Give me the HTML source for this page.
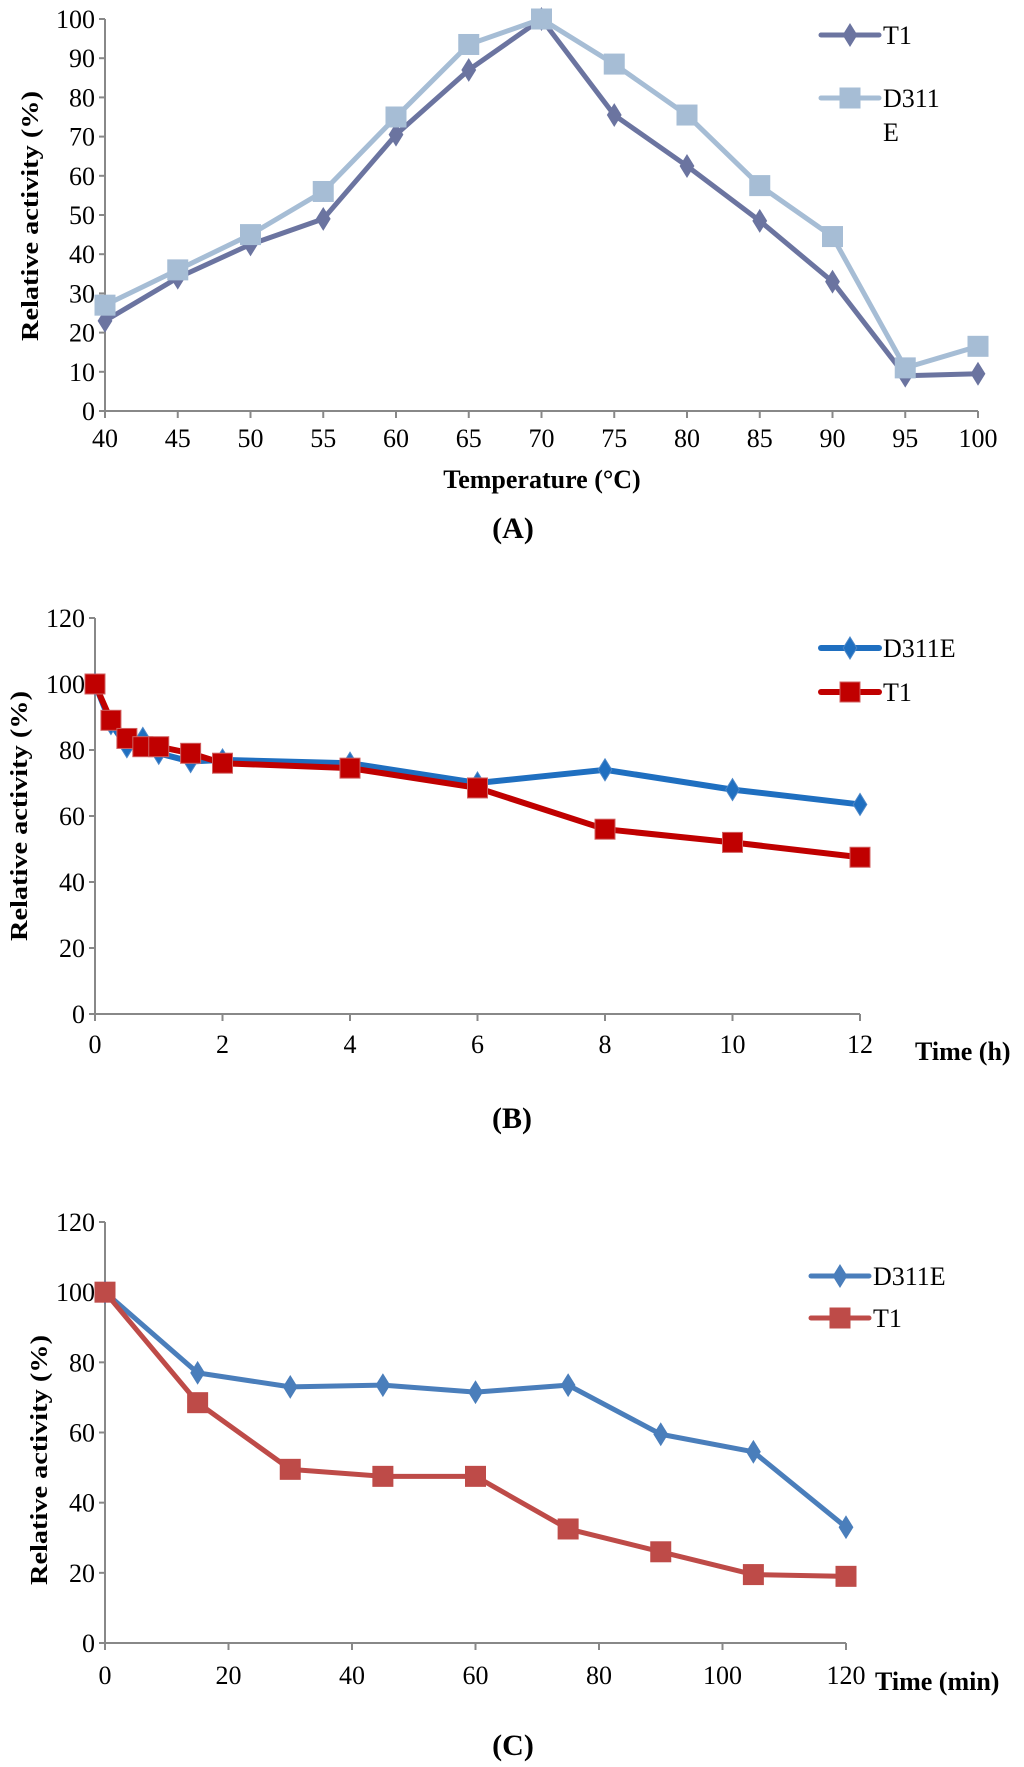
<!DOCTYPE html>
<html><head><meta charset="utf-8"><style>
html,body{margin:0;padding:0;background:#fff}
svg{display:block}
text{font-family:"Liberation Serif",serif;fill:#000}
</style></head><body>
<svg id="fig" width="1024" height="1767" viewBox="0 0 1024 1767">
<text x="513" y="538" font-size="30" font-weight="bold" text-anchor="middle">(A)</text>
<text x="512" y="1128" font-size="30" font-weight="bold" text-anchor="middle">(B)</text>
<text x="513" y="1755" font-size="30" font-weight="bold" text-anchor="middle">(C)</text>
</svg>
<script>
// Panel A data
const aX = [40,45,50,55,60,65,70,75,80,85,90,95,100];
const aT1 = [23,34,42.5,49,70.5,87,100,75.5,62.5,48.5,33,9,9.5];
const aD311E = [27,36,45,56,75,93.5,100,88.5,75.5,57.5,44.5,11,16.5];
const aYTicks = [0,10,20,30,40,50,60,70,80,90,100];
const aXTicks = [40,45,50,55,60,65,70,75,80,85,90,95,100];
// Panel B data
const bX = [0,0.25,0.5,0.75,1,1.5,2,4,6,8,10,12];
const bD311E = [100,88,81,83.5,79,76.5,77,76,70,74,68,63.5];
const bT1 = [100,89,83.5,81,81,79,76,74.5,68.5,56,52,47.5];
const bYTicks = [0,20,40,60,80,100,120];
const bXTicks = [0,2,4,6,8,10,12];
// Panel C data
const cX = [0,15,30,45,60,75,90,105,120];
const cD311E = [100,77,73,73.5,71.5,73.5,59.5,54.5,33];
const cT1 = [100,68.5,49.5,47.5,47.5,32.5,26,19.5,19];
const cYTicks = [0,20,40,60,80,100,120];
const cXTicks = [0,20,40,60,80,100,120];

const NS = "http://www.w3.org/2000/svg";
const svg = document.getElementById('fig');
function mk(tag, attrs, parent) {
  const e = document.createElementNS(NS, tag);
  for (const k in attrs) e.setAttribute(k, attrs[k]);
  (parent || svg).appendChild(e);
  return e;
}
function marker(g, kind, x, y, color, size, stroke) {
  let m;
  if (kind === 'diamond') {
    const s = size;
    m = mk('polygon', {points: `${x},${y-s} ${x+s*0.62},${y} ${x},${y+s} ${x-s*0.62},${y}`, fill: color, stroke: stroke, 'stroke-width': 1}, g);
  } else {
    m = mk('rect', {x: x-size, y: y-size, width: size*2, height: size*2, fill: color, stroke: stroke, 'stroke-width': 1}, g);
  }
  return m;
}
function panel(cfg) {
  const sx = v => cfg.x0 + (v - cfg.xmin) / (cfg.xmax - cfg.xmin) * (cfg.x1 - cfg.x0);
  const sy = v => cfg.y0 + (v - cfg.ymin) / (cfg.ymax - cfg.ymin) * (cfg.y1 - cfg.y0);
  const g = mk('g', {});
  
  
  const ax = mk('g', {stroke: '#888', 'stroke-width': 2}, g);
  
  
  mk('line', {x1: cfg.x0, y1: sy(cfg.ymin), x2: cfg.x0, y2: sy(cfg.ymax)}, ax);
  mk('line', {x1: cfg.x0, y1: sy(cfg.ymin), x2: cfg.x1, y2: sy(cfg.ymin)}, ax);
  cfg.yTicks.forEach(v => {
    mk('line', {x1: cfg.x0 - 6, y1: sy(v), x2: cfg.x0, y2: sy(v)}, ax);
    const t = mk('text', {x: cfg.x0 - 10, y: sy(v) + 9, 'font-size': 26, 'text-anchor': 'end'}, g);
    t.textContent = v;
    
    
  });
  cfg.xTicks.forEach(v => {
    mk('line', {x1: sx(v), y1: sy(cfg.ymin), x2: sx(v), y2: sy(cfg.ymin) + 7}, ax);
    const t = mk('text', {x: sx(v), y: cfg.xLabelY, 'font-size': 26, 'text-anchor': 'middle'}, g);
    t.textContent = v;
    
    
  });
  const yt = mk('text', {x: 0, y: 0, 'font-size': 24, 'font-weight': 'bold', 'text-anchor': 'middle',
    textLength: 250, lengthAdjust: 'spacingAndGlyphs',
    transform: `translate(${cfg.yTitleX},${cfg.yTitleY}) rotate(-90)`}, g);
  yt.textContent = 'Relative activity (%)';
  
  
  const xt = mk('text', {x: cfg.xTitleX, y: cfg.xTitleY, 'font-size': 26, 'font-weight': 'bold', 'text-anchor': cfg.xTitleAnchor}, g);
  xt.textContent = cfg.xTitle;
  
  
  cfg.series.forEach(s => {
    const sg = mk('g', {}, g);
    
    
    const pts = cfg.xs.map((x, i) => sx(x) + ',' + sy(s.values[i])).join(' ');
    mk('polyline', {points: pts, fill: 'none', stroke: s.color, 'stroke-width': cfg.lw, 'stroke-linejoin': 'round'}, sg);
    cfg.xs.forEach((x, i) => {
      const m = marker(sg, s.kind, sx(x), sy(s.values[i]), s.color, s.kind === 'diamond' ? 11 : 10, s.edge);
      
      
    });
    const lg = mk('g', {}, g);
    
    
    mk('line', {x1: cfg.legX, y1: s.legY, x2: cfg.legX + 58, y2: s.legY, stroke: s.color, 'stroke-width': cfg.lw, 'stroke-linecap': 'round'}, lg);
    marker(lg, s.kind, cfg.legX + 29, s.legY, s.color, s.kind === 'diamond' ? 11 : 10, s.edge);
    s.legText.forEach((tx, k) => {
      const t = mk('text', {x: cfg.legX + 62, y: s.legY + 9 + k * 34, 'font-size': 26}, lg);
      t.textContent = tx;
    });
  });
}
panel({name: 'chart-a', x0: 105, x1: 978, y0: 411, y1: 19, xmin: 40, xmax: 100, ymin: 0, ymax: 100,
  xs: aX, xTicks: aXTicks, yTicks: aYTicks, xLabelY: 447, yTitleX: 38, yTitleY: 216,
  xTitle: 'Temperature (°C)', xTitleX: 542, xTitleY: 488, xTitleAnchor: 'middle', lw: 5, legX: 821,
  series: [
    {label: 'T1', values: aT1, color: '#6b74a0', edge: '#6b74a0', kind: 'diamond', legY: 35, legText: ['T1']},
    {label: 'D311E', values: aD311E, color: '#a6bdd5', edge: '#a6bdd5', kind: 'square', legY: 98, legText: ['D311', 'E']}
  ]});
panel({name: 'chart-b', x0: 95, x1: 860, y0: 1014, y1: 618, xmin: 0, xmax: 12, ymin: 0, ymax: 120,
  xs: bX, xTicks: bXTicks, yTicks: bYTicks, xLabelY: 1053, yTitleX: 27, yTitleY: 816,
  xTitle: 'Time (h)', xTitleX: 915, xTitleY: 1060, xTitleAnchor: 'start', lw: 6, legX: 821,
  series: [
    {label: 'D311E', values: bD311E, color: '#1f6fc0', edge: '#4a86c8', kind: 'diamond', legY: 648, legText: ['D311E']},
    {label: 'T1', values: bT1, color: '#c00000', edge: '#d06060', kind: 'square', legY: 692, legText: ['T1']}
  ]});
panel({name: 'chart-c', x0: 105, x1: 846, y0: 1643, y1: 1222, xmin: 0, xmax: 120, ymin: 0, ymax: 120,
  xs: cX, xTicks: cXTicks, yTicks: cYTicks, xLabelY: 1684, yTitleX: 47, yTitleY: 1460,
  xTitle: 'Time (min)', xTitleX: 875, xTitleY: 1690, xTitleAnchor: 'start', lw: 5, legX: 811,
  series: [
    {label: 'D311E', values: cD311E, color: '#4a7ebb', edge: '#4a7ebb', kind: 'diamond', legY: 1276, legText: ['D311E']},
    {label: 'T1', values: cT1, color: '#be4b48', edge: '#be4b48', kind: 'square', legY: 1318, legText: ['T1']}
  ]});
</script>
</body></html>
